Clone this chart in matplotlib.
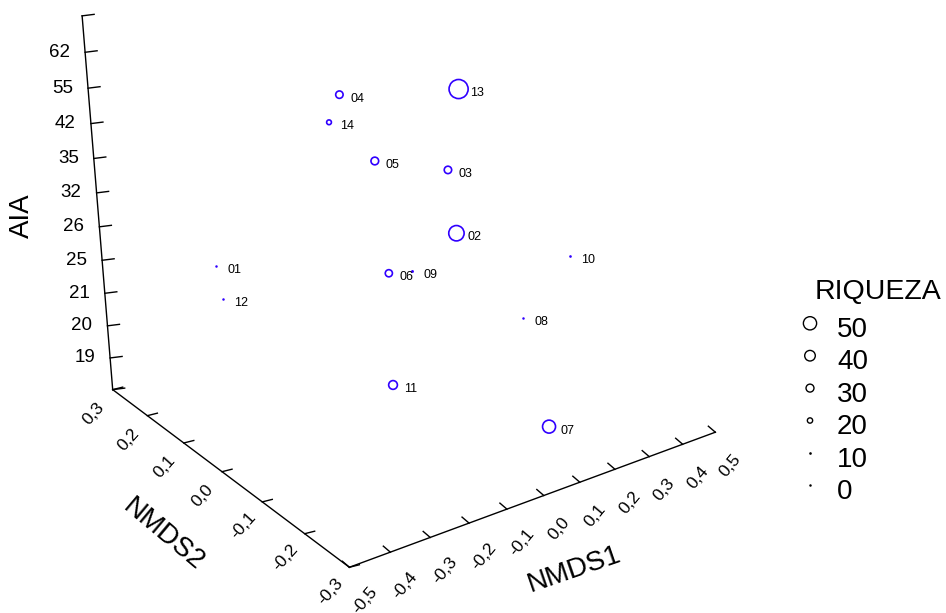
import numpy as np
import matplotlib
matplotlib.use('Agg')
import matplotlib.pyplot as plt

# data
sites = ['01', '02', '03', '04', '05', '06', '07', '08', '09', '10', '11', '12', '13', '14']
nmds1 = [-0.306, 0.136, 0.233, -0.206, 0.003, -0.012, 0.110, 0.195, 0.037, 0.388, -0.049, -0.206, 0.167, -0.064]
nmds2 = [0.193, -0.001, 0.098, -0.037, 0.075, 0.034, -0.227, -0.105, 0.021, -0.062, -0.003, 0.285, 0.017, 0.123]
aia = [25, 26, 32, 62, 35, 25, 19, 21, 25, 25, 19, 20, 55, 42]
riqueza = [9, 58, 28, 28, 29, 27, 49, 8, 11, 10, 33, 7, 72, 18]
aia_ticks = [19, 20, 21, 25, 26, 32, 35, 42, 55, 62]
nmds1_ticks = [-0.5, -0.4, -0.3, -0.2, -0.1, 0.0, 0.1, 0.2, 0.3, 0.4, 0.5]
nmds2_ticks = [0.3, 0.2, 0.1, 0.0, -0.1, -0.2, -0.3]
legend_vals = [50, 40, 30, 20, 10, 0]

# frame: pixel positions of the axis ticks, used to fit the perspective view
zpix_v = [390, 358, 325, 293, 260, 228, 193, 158, 124, 88, 52, 16]
ypix = [(112, 390), (147, 415), (184, 443), (222, 472), (262, 502), (305, 534), (350, 568)]
xpix = [(350, 568), (390, 552), (430, 537), (468, 523), (507, 508), (543, 495),
        (580, 482), (615, 468), (650, 457), (683, 445), (715, 433)]

pts3 = []
pts2 = []
for k, v in enumerate(zpix_v):
    pts3.append((-0.5, 0.3, k))
    pts2.append((82 + 31 * (v - 16) / 374, v))
for i, p in enumerate(ypix):
    pts3.append((-0.5, 0.3 - 0.1 * i, 0))
    pts2.append(p)
for i, p in enumerate(xpix):
    pts3.append((-0.5 + 0.1 * i, -0.3, 0))
    pts2.append(p)
pts3 = np.array(pts3, float)
pts2 = np.array(pts2, float)


def norm3(a):
    a = np.atleast_2d(a)
    return np.column_stack([a[:, 0] / 0.5, a[:, 1] / 0.3, (a[:, 2] - 5.5) / 5.5, np.ones(len(a))])


# perspective camera (DLT fit)
A = []
for X, (u, v) in zip(norm3(pts3), (pts2 - [400, 300]) / 300):
    A.append(list(X) + [0] * 4 + list(-u * X))
    A.append([0] * 4 + list(X) + list(-v * X))
P = np.linalg.svd(np.array(A))[2][-1].reshape(3, 4)


def project(x, y, z):
    X = norm3(np.column_stack([np.ravel(x), np.ravel(y), np.ravel(z)]))
    h = X @ P.T
    return h[:, 0] / h[:, 2] * 300 + 400, h[:, 1] / h[:, 2] * 300 + 300


def size_of(r):
    d = max(2.5, 0.265 * r)
    return (0.72 * d) ** 2, d


plt.rcParams['font.family'] = ['Liberation Sans', 'DejaVu Sans']
blue = '#3000ff'

fig = plt.figure(figsize=(9.46, 6.13), dpi=100)
ax = fig.add_axes([0, 0, 1, 1])
ax.set_xlim(0, 946)
ax.set_ylim(613, 0)
ax.axis('off')

lw = 1.0
# axis lines
zlev = np.arange(len(aia_ticks) + 2)
u, v = project([-0.5, -0.5], [0.3, 0.3], [0, zlev[-1]])
ax.plot(u, v, color='black', lw=lw)
u, v = project([-0.5, -0.5], [0.3, -0.3], [0, 0])
ax.plot(u, v, color='black', lw=lw)
u, v = project([-0.5, 0.5], [-0.3, -0.3], [0, 0])
ax.plot(u, v, color='black', lw=lw)

# AIA ticks
u, v = project(np.full(len(zlev), -0.5), np.full(len(zlev), 0.3), zlev)
for k in range(len(zlev)):
    ax.plot([u[k], u[k] + 12], [v[k], v[k] - 1.5], color='black', lw=lw)
    if 1 <= k <= len(aia_ticks):
        ax.text(u[k] - 15, v[k], str(aia_ticks[k - 1]), ha='right', va='center', fontsize=13.5)
# NMDS2 ticks
u, v = project(np.full(len(nmds2_ticks), -0.5), nmds2_ticks, np.zeros(len(nmds2_ticks)))
for k, t in enumerate(nmds2_ticks):
    ax.plot([u[k], u[k] + 10], [v[k], v[k] - 2.5], color='black', lw=lw)
    ax.text(u[k] - 19, v[k] + 24, ('%.1f' % t).replace('.', ','), ha='center', va='center',
            rotation=48, rotation_mode='anchor', fontsize=12.5)
# NMDS1 ticks
u, v = project(nmds1_ticks, np.full(len(nmds1_ticks), -0.3), np.zeros(len(nmds1_ticks)))
for k, t in enumerate(nmds1_ticks):
    ax.plot([u[k], u[k] - 7], [v[k], v[k] - 6], color='black', lw=lw)
    ax.text(u[k] + 15, v[k] + 33, ('%.1f' % t).replace('.', ','), ha='center', va='center',
            rotation=50, rotation_mode='anchor', fontsize=12.5)

ax.text(22, 216, 'AIA', rotation=90, ha='center', va='center', fontsize=20)
ax.text(163, 535, 'NMDS2', rotation=-40, ha='center', va='center', fontsize=20,
        rotation_mode='anchor')
ax.text(574, 570, 'NMDS1', rotation=19, ha='center', va='center', fontsize=20,
        rotation_mode='anchor')

# points
z = [aia_ticks.index(a) + 1 for a in aia]
u, v = project(nmds1, nmds2, z)
for k, lab in enumerate(sites):
    s, d = size_of(riqueza[k])
    if d < 4:
        ax.scatter(u[k], v[k], s=s, color=blue, lw=0)
    else:
        ax.scatter(u[k], v[k], s=s, facecolor='none', edgecolor=blue, lw=1.2)
    ax.text(u[k] + 11, v[k] + 4, lab, ha='left', va='center', fontsize=9)

# legend
ax.text(815, 292, 'RIQUEZA', ha='left', va='center', fontsize=20.5)
for i, r in enumerate(legend_vals):
    s, d = size_of(r)
    if d < 4:
        ax.scatter(810, 323.3 + 32.4 * i, s=s, color='black', lw=0)
    else:
        ax.scatter(810, 323.3 + 32.4 * i, s=s, facecolor='none', edgecolor='black', lw=1.0)
    ax.text(837, 330 + 32.4 * i, str(r), ha='left', va='center', fontsize=20)

fig.savefig('out.png')
